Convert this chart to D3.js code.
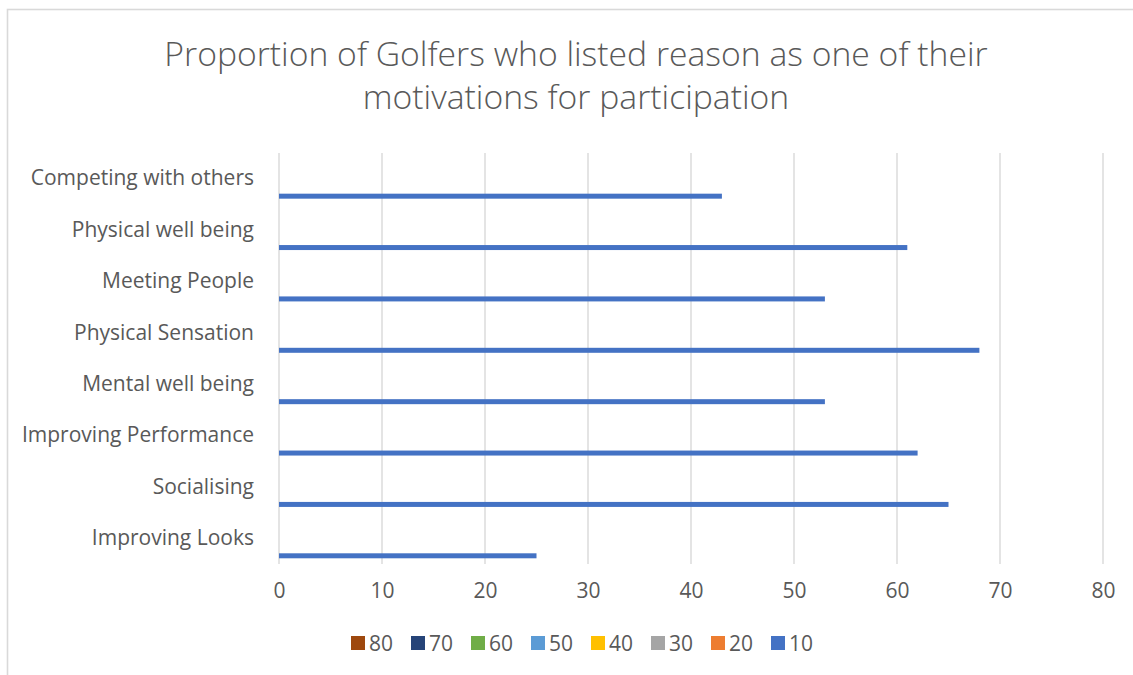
<!DOCTYPE html>
<html>
<head>
<meta charset="utf-8">
<script src="https://cdn.jsdelivr.net/npm/d3@7"></script>
<style>
  html, body { margin: 0; padding: 0; background: #fff; }
  svg text { font-family: "Open Sans", Lato, sans-serif; fill: #595959; }
</style>
</head>
<body>
<div class="bar-chart"></div>
<script>
// categories top to bottom, as they appear on the chart
const categories = [
  'Competing with others',
  'Physical well being',
  'Meeting People',
  'Physical Sensation',
  'Mental well being',
  'Improving Performance',
  'Socialising',
  'Improving Looks',
];
// only the "10" series carries values, the others are empty
const seriesNames = ['80', '70', '60', '50', '40', '30', '20', '10'];
const seriesColors = ['#9E480E', '#264478', '#70AD47', '#5B9BD5', '#FFC000', '#A5A5A5', '#ED7D31', '#4472C4'];
const values10 = [43, 61, 53, 68, 53, 62, 65, 25];
const xTicks = [0, 10, 20, 30, 40, 50, 60, 70, 80];
const titleLines = ['Proportion of Golfers who listed reason as one of their', 'motivations for participation'];

const W = 1133, H = 675;
const margin = { top: 153, right: 30, bottom: 111, left: 279 };
const width = W - margin.left - margin.right;
const height = H - margin.top - margin.bottom;

const svg = d3.select('.bar-chart').append('svg')
  .attr('width', W)
  .attr('height', H);

// chart frame (runs off the right / bottom of the picture)
svg.append('rect')
  .attr('x', 7.5).attr('y', 9.5)
  .attr('width', W + 20).attr('height', H + 20)
  .attr('fill', 'none')
  .attr('stroke', '#d9d9d9')
  .attr('stroke-width', 1.6);

svg.append('text')
  .attr('class', 'title')
  .attr('text-anchor', 'middle')
  .style('font-size', '33.7px')
  .style('font-weight', 300)
  .selectAll('tspan')
  .data(titleLines)
  .enter()
  .append('tspan')
  .attr('x', 576)
  .attr('y', (d, i) => 66 + i * 43)
  .text(d => d);

const g = svg.append('g')
  .attr('transform', `translate(${margin.left},${margin.top})`);

const x = d3.scaleLinear().domain([0, 80]).range([0, width]);
const y = d3.scaleBand().domain(categories).range([0, height])
  .paddingInner(0.222).paddingOuter(0.111);
const ys = d3.scaleBand().domain(seriesNames).range([0, y.bandwidth()]);

// vertical gridlines
g.append('g')
  .attr('class', 'grid')
  .selectAll('line')
  .data(xTicks)
  .enter()
  .append('line')
  .attr('x1', d => x(d)).attr('x2', d => x(d))
  .attr('y1', 0).attr('y2', height)
  .attr('stroke', '#d9d9d9')
  .attr('stroke-width', 1.4);

// x axis labels
const xAxis = g.append('g')
  .attr('class', 'x axis')
  .attr('transform', `translate(0,${height})`)
  .call(d3.axisBottom(x).tickValues(xTicks).tickSize(0).tickPadding(19));
xAxis.select('.domain').remove();
xAxis.selectAll('text')
  .style('font-size', '21px')
  .style('font-family', '"Open Sans", Lato, sans-serif')
  .attr('fill', '#595959');

// category labels
const yAxis = g.append('g')
  .attr('class', 'y axis')
  .call(d3.axisLeft(y).tickSize(0).tickPadding(25));
yAxis.select('.domain').remove();
yAxis.selectAll('text')
  .style('font-size', '21px')
  .style('font-family', '"Open Sans", Lato, sans-serif')
  .attr('fill', '#595959');

// bars
g.append('g')
  .selectAll('rect')
  .data(values10)
  .enter()
  .append('rect')
  .attr('x', x(0))
  .attr('y', (d, i) => y(categories[i]) + ys('10'))
  .attr('width', d => x(d) - x(0))
  .attr('height', ys.bandwidth())
  .attr('fill', seriesColors[seriesNames.indexOf('10')]);

// legend
const legend = svg.append('g')
  .attr('class', 'legend')
  .attr('transform', 'translate(351,636)');
const item = legend.selectAll('g')
  .data(seriesNames)
  .enter()
  .append('g')
  .attr('transform', (d, i) => `translate(${i * 60},0)`);
item.append('rect')
  .attr('width', 14).attr('height', 14)
  .attr('fill', (d, i) => seriesColors[i]);
item.append('text')
  .attr('x', 18).attr('y', 14.5)
  .style('font-size', '21px')
  .text(d => d);
</script>
</body>
</html>
